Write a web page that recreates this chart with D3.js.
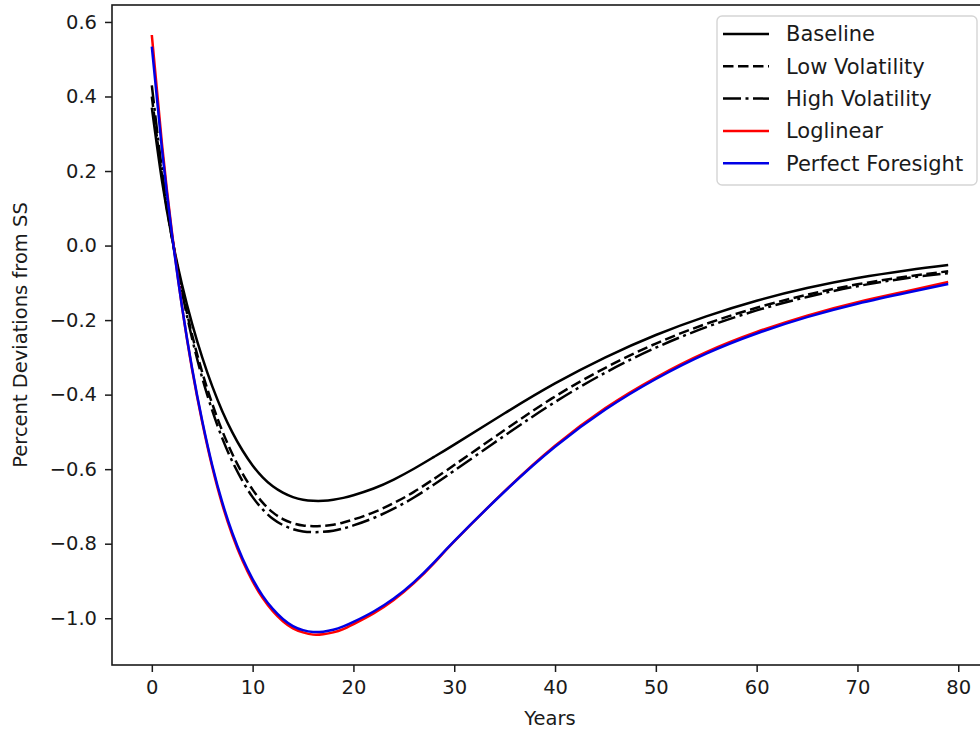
<!DOCTYPE html>
<html>
<head>
<meta charset="utf-8">
<script src="https://cdn.jsdelivr.net/npm/d3@7"></script>
<style>
  body { margin: 0; background: #fff; }
  text { font-family: "DejaVu Sans", sans-serif; fill: #1a1a1a; }
</style>
</head>
<body>
<div id="chart"></div>
<script>
const years = [0, 1, 2, 3, 4, 5, 6, 7, 8, 9, 10, 11, 12, 13, 14, 15, 16, 17, 18, 19, 20,
  22, 24, 26, 28, 30, 35, 40, 45, 50, 55, 60, 65, 70, 75, 79];

const baseline = [0.37, 0.175, 0.02, -0.105, -0.21, -0.30, -0.378, -0.445, -0.502, -0.55, -0.59,
  -0.622, -0.646, -0.663, -0.675, -0.682, -0.685, -0.685, -0.682, -0.677, -0.670,
  -0.652, -0.628, -0.599, -0.567, -0.534, -0.45, -0.37, -0.30, -0.24, -0.19, -0.148,
  -0.114, -0.087, -0.066, -0.052];

const lowVol = [0.40, 0.19, 0.02, -0.12, -0.24, -0.34, -0.425, -0.498, -0.56, -0.612, -0.655,
  -0.69, -0.716, -0.734, -0.745, -0.751, -0.753, -0.752, -0.749, -0.743, -0.735,
  -0.716, -0.691, -0.661, -0.626, -0.589, -0.495, -0.405, -0.328, -0.263, -0.21, -0.167,
  -0.132, -0.104, -0.083, -0.069];

const highVol = [0.43, 0.205, 0.025, -0.125, -0.25, -0.355, -0.443, -0.518, -0.58, -0.632, -0.675,
  -0.708, -0.733, -0.75, -0.761, -0.767, -0.769, -0.768, -0.765, -0.759, -0.751,
  -0.731, -0.706, -0.676, -0.641, -0.604, -0.51, -0.42, -0.341, -0.274, -0.219, -0.174,
  -0.138, -0.109, -0.087, -0.074];

const loglinear = [0.565, 0.275, 0.035, -0.165, -0.333, -0.474, -0.595, -0.696, -0.778, -0.846, -0.901,
  -0.946, -0.981, -1.008, -1.027, -1.038, -1.044, -1.043, -1.038, -1.029, -1.016,
  -0.987, -0.951, -0.906, -0.852, -0.794, -0.659, -0.537, -0.436, -0.354, -0.286, -0.232,
  -0.188, -0.152, -0.122, -0.098];

const foresight = [0.534, 0.26, 0.03, -0.165, -0.33, -0.47, -0.59, -0.69, -0.772, -0.84, -0.895,
  -0.94, -0.975, -1.002, -1.021, -1.032, -1.037, -1.036, -1.031, -1.022, -1.01,
  -0.982, -0.947, -0.903, -0.85, -0.793, -0.66, -0.54, -0.44, -0.358, -0.29, -0.236,
  -0.192, -0.156, -0.126, -0.103];

const names = ["Baseline", "Low Volatility", "High Volatility", "Loglinear", "Perfect Foresight"];
const xTicks = [0, 10, 20, 30, 40, 50, 60, 70, 80];
const yTicks = [-1.0, -0.8, -0.6, -0.4, -0.2, 0.0, 0.2, 0.4, 0.6];

const width = 980,
  height = 732,
  margin = { top: 5, left: 112, bottom: 67, right: -8 };

const series = [
  { name: names[0], values: baseline, color: "#000", dash: null },
  { name: names[1], values: lowVol, color: "#000", dash: "10.5,4.5" },
  { name: names[2], values: highVol, color: "#000", dash: "18,4.5,3,4.5" },
  { name: names[3], values: loglinear, color: "#ff0000", dash: null },
  { name: names[4], values: foresight, color: "#0000e6", dash: null }
];

const x = d3.scaleLinear()
  .domain([-3.95, 82.95])
  .range([margin.left, width - margin.right]);

const y = d3.scaleLinear()
  .domain([-1.1255, 0.6455])
  .range([height - margin.bottom, margin.top]);

const svg = d3.select("#chart").append("svg")
  .attr("width", width)
  .attr("height", height);

svg.append("defs").append("clipPath")
  .attr("id", "plot")
  .append("rect")
  .attr("x", margin.left)
  .attr("y", margin.top)
  .attr("width", width - margin.right - margin.left)
  .attr("height", height - margin.bottom - margin.top);

const line = d3.line()
  .x((d, i) => x(years[i]))
  .y(d => y(d))
  .curve(d3.curveNatural);

svg.append("g")
  .attr("clip-path", "url(#plot)")
  .selectAll("path")
  .data(series)
  .enter()
  .append("path")
  .attr("d", d => line(d.values))
  .attr("fill", "none")
  .attr("stroke", d => d.color)
  .attr("stroke-width", 2.5)
  .attr("stroke-dasharray", d => d.dash);

const fmt = v => d3.format(".1f")(v).replace("-", "\u2212");

// axes
const xAxis = svg.append("g")
  .attr("transform", `translate(0,${height - margin.bottom})`)
  .call(d3.axisBottom(x).tickValues(xTicks).tickSize(7).tickPadding(8).tickFormat(d3.format("d")));

const yAxis = svg.append("g")
  .attr("transform", `translate(${margin.left},0)`)
  .call(d3.axisLeft(y).tickValues(yTicks).tickSize(7).tickPadding(8).tickFormat(fmt));

[xAxis, yAxis].forEach(g => {
  g.selectAll("text").style("font-size", "19.5px").style("font-family", "DejaVu Sans, sans-serif").attr("fill", "#1a1a1a");
  g.selectAll("line").attr("stroke", "#1a1a1a").attr("stroke-width", 1.5);
  g.select(".domain").remove();
});

// spines
svg.append("rect")
  .attr("x", margin.left)
  .attr("y", margin.top)
  .attr("width", width - margin.right - margin.left)
  .attr("height", height - margin.bottom - margin.top)
  .attr("fill", "none")
  .attr("stroke", "#1a1a1a")
  .attr("stroke-width", 1.6);

svg.append("text")
  .attr("x", (margin.left + width - margin.right) / 2)
  .attr("y", 725)
  .attr("text-anchor", "middle")
  .style("font-size", "19.5px")
  .text("Years");

svg.append("text")
  .attr("transform", `translate(27,${(margin.top + height - margin.bottom) / 2}) rotate(-90)`)
  .attr("text-anchor", "middle")
  .style("font-size", "19.5px")
  .text("Percent Deviations from SS");

// legend
const legend = svg.append("g").attr("transform", "translate(717,16)");

legend.append("rect")
  .attr("width", 260)
  .attr("height", 169)
  .attr("rx", 5)
  .attr("fill", "rgba(255,255,255,0.8)")
  .attr("stroke", "#d5d5d5")
  .attr("stroke-width", 1.4);

const item = legend.selectAll("g.item")
  .data(series)
  .enter()
  .append("g")
  .attr("class", "item")
  .attr("transform", (d, i) => `translate(0,${18 + i * 32.3})`);

item.append("line")
  .attr("x1", 6)
  .attr("x2", 52)
  .attr("stroke", d => d.color)
  .attr("stroke-width", 2.5)
  .attr("stroke-dasharray", d => d.dash);

item.append("text")
  .attr("x", 69)
  .attr("dy", "0.35em")
  .style("font-size", "21px")
  .text(d => d.name);
</script>
</body>
</html>
